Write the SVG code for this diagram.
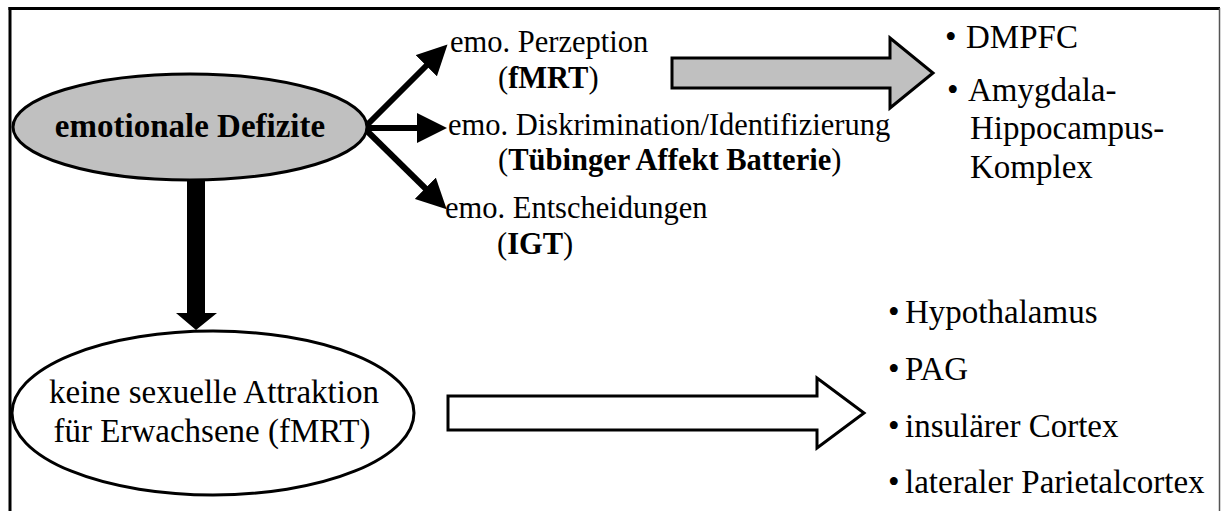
<svg xmlns="http://www.w3.org/2000/svg" width="1221" height="511" viewBox="0 0 1221 511">
<style>
  text { font-family: "Liberation Serif", "Times New Roman", serif; fill: #000; }
  .t30 { font-size: 30.5px; }
  .t33 { font-size: 33px; }
  .b { font-weight: bold; }
  .node { stroke: #000; stroke-width: 3; }
  .gray { fill: #c0c0c0; }
  .white { fill: #fff; }
  .conn { stroke: #000; stroke-width: 6; fill: none; }
</style>
<defs>
  <marker id="head" markerUnits="userSpaceOnUse" markerWidth="30" markerHeight="30" viewBox="0 0 30 30" refX="1" refY="15" orient="auto">
    <path d="M0,0 L30,15 L0,30 z" fill="#000"/>
  </marker>
</defs>
<rect width="1221" height="511" fill="#fff"/>
<g id="frame">
  <line x1="10" y1="511" x2="10" y2="7" stroke="#000" stroke-width="3"/>
  <line x1="8.5" y1="8.5" x2="1220" y2="8.5" stroke="#000" stroke-width="3"/>
  <line x1="1219.5" y1="8" x2="1219.5" y2="511" stroke="#555" stroke-width="1.5"/>
</g>
<g id="connectors">
  <line class="conn" x1="364" y1="128" x2="427" y2="65" marker-end="url(#head)"/>
  <line class="conn" x1="366" y1="128" x2="418" y2="128" marker-end="url(#head)"/>
  <line class="conn" x1="364" y1="128" x2="426" y2="189" marker-end="url(#head)"/>
  <polygon points="187,178 205,178 205,313 217,313 196,330 176,313 187,313" fill="#000"/>
  <polygon class="node gray" points="672,58 890,58 890,38 933,73 890,108 890,88 672,88"/>
  <polygon class="node white" points="448,396 817,396 817,378 864,413 817,448 817,430 448,430"/>
</g>
<g id="node-emotionale-defizite">
  <ellipse class="node gray" cx="190" cy="127" rx="177" ry="53"/>
  <text class="t33 b" x="190" y="137" text-anchor="middle">emotionale Defizite</text>
</g>
<g id="node-keine-attraktion">
  <ellipse class="node white" cx="213" cy="413" rx="201" ry="82"/>
  <text class="t33" x="214" y="403" text-anchor="middle">keine sexuelle Attraktion</text>
  <text class="t33" x="212" y="442" text-anchor="middle">für Erwachsene (fMRT)</text>
</g>
<g id="node-perzeption">
  <text class="t30" x="450" y="52">emo. Perzeption</text>
  <text class="t30" x="498" y="88">(<tspan class="b">fMRT</tspan>)</text>
</g>
<g id="node-diskrimination">
  <text class="t30" x="448" y="135">emo. Diskrimination/Identifizierung</text>
  <text class="t30" x="498" y="170">(<tspan class="b">Tübinger Affekt Batterie</tspan>)</text>
</g>
<g id="node-entscheidungen">
  <text class="t30" x="445" y="218">emo. Entscheidungen</text>
  <text class="t30" x="497" y="254">(<tspan class="b">IGT</tspan>)</text>
</g>
<g id="node-areas-top">
  <text class="t33" x="945" y="48">•</text>
  <text class="t33" x="966" y="48">DMPFC</text>
  <text class="t33" x="947" y="101">•</text>
  <text class="t33" x="968" y="101">Amygdala-</text>
  <text class="t33" x="970" y="139">Hippocampus-</text>
  <text class="t33" x="970" y="178">Komplex</text>
</g>
<g id="node-areas-bottom">
  <text class="t33" x="888" y="323">•</text>
  <text class="t33" x="905" y="323">Hypothalamus</text>
  <text class="t33" x="888" y="380">•</text>
  <text class="t33" x="905" y="380">PAG</text>
  <text class="t33" x="888" y="437">•</text>
  <text class="t33" x="905" y="437">insulärer Cortex</text>
  <text class="t33" x="888" y="493">•</text>
  <text class="t33" x="905" y="493">lateraler Parietalcortex</text>
</g>
</svg>
